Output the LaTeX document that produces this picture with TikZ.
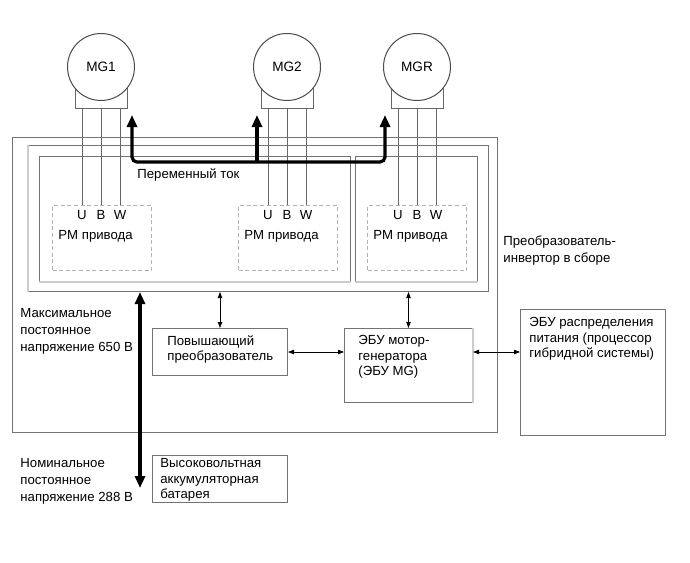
\documentclass[tikz,border=0pt]{standalone}
\usepackage{fontspec}
\setmainfont{Liberation Sans}
\usetikzlibrary{arrows.meta}

\begin{document}
\begin{tikzpicture}[x=0.5pt,y=-0.5pt,
  font=\fontsize{6.6pt}{7.8pt}\selectfont,
  box/.style={draw=black!55,line width=0.5pt,anchor=north west,inner sep=0pt},
  pm/.style={box,draw=black!30,dash pattern=on 2pt off 1.3pt,minimum width=49.5pt,minimum height=32.5pt},
  txt/.style={anchor=north west,inner sep=0pt,align=left},
  outtxt/.style={txt,font=\fontsize{6.6pt}{8.5pt}\selectfont},
  wire/.style={draw=black!60,line width=0.5pt},
  shadeline/.style={draw=black!20,line width=1pt},
  bus/.style={line width=1.6pt,rounded corners=2.5pt},
  link/.style={line width=0.4pt,{Triangle[length=3pt,width=2.2pt]}-{Triangle[length=3pt,width=2.2pt]}},
  motor/.style={circle,draw=black!70,line width=0.5pt,fill=white,minimum size=33.5pt,inner sep=0pt,
    font=\fontsize{6.8pt}{8pt}\selectfont},
  motorbase/.style={draw=black!60,line width=0.5pt,minimum width=26pt,minimum height=11pt,inner sep=0pt,anchor=south}]
  \useasboundingbox (0,0) rectangle (690,562);

  \node[box,minimum width=242.5pt,minimum height=147.5pt] (asm) at (12,137) {};
  \node[box,minimum width=230pt,minimum height=73pt] (inv) at (28,145) {};
  \node[box,minimum width=155.5pt,minimum height=62.5pt] (invl) at (39,156) {};
  \node[box,minimum width=61pt,minimum height=62.5pt] (invr) at (355,156) {};
  \draw[shadeline] (inv.north west) -- (inv.south west);
  \draw[shadeline] (invl.south west) -- (invl.south east);
  \draw[shadeline] (invr.south west) -- (invr.south east);

  \node[pm] (pm1) at (52,205) {};
  \node[pm] (pm2) at (238,205) {};
  \node[pm] (pm3) at (367,205) {};
  \foreach \p in {pm1,pm2,pm3}
    \node[txt] at ([shift={(6,25)}]\p.north west) {PM привода};

  \node[motorbase] (b1) at (101,109) {};
  \node[motor] (mg1) at (101,67) {MG1};
  \node[motorbase] (b2) at (287,109) {};
  \node[motor] (mg2) at (287,67) {MG2};
  \node[motorbase] (b3) at (417,109) {};
  \node[motor] (mg3) at (417,67) {MGR};

  \foreach \m/\p in {b1/pm1,b2/pm2,b3/pm3}
    \foreach \dx/\l in {-19/U,0/B,19/W}{
      \draw[wire] ([xshift=\dx*0.5pt]\m.south) -- ([xshift=\dx*0.5pt]\m.south |- \p.north);
      \node[inner sep=0pt] at ([xshift=\dx*0.5pt,yshift=-5pt]\m.south |- \p.north) {\l};
    }

  \coordinate (acl) at (132,115);
  \coordinate (acm) at (257,115);
  \coordinate (acr) at (385,115);
  \coordinate (acbus) at (0,162);
  \draw[bus,{Triangle[length=6pt,width=5pt]}-{Triangle[length=6pt,width=5pt]}]
    (acl) -- (acl |- acbus) -- (acr |- acbus) -- (acr);
  \draw[bus,-{Triangle[length=6pt,width=5pt]}] (acm |- acbus) -- (acm);
  \node[txt] at (137,168) {Переменный ток};

  \node[outtxt] at (503,235) {Преобразователь-\\инвертор в сборе};

  \node[box,minimum width=67.5pt,minimum height=23.5pt] (boost) at (152,328) {};
  \node[box,minimum width=64pt,minimum height=37pt] (mgecu) at (344,328) {};
  \node[box,minimum width=72.5pt,minimum height=63pt] (pwrecu) at (520,309) {};
  \node[box,minimum width=67.5pt,minimum height=23.5pt] (batt) at (152,455) {};
  \draw[shadeline] (mgecu.north east) -- (mgecu.south east);

  \node[txt] at ([shift={(15,7)}]boost.north west) {Повышающий\\преобразователь};
  \node[txt] at ([shift={(14,7)}]mgecu.north west) {ЭБУ мотор-\\генератора\\(ЭБУ MG)};
  \node[txt] at ([shift={(9,8)}]pwrecu.north west) {ЭБУ распределения\\питания (процессор\\гибридной системы)};
  \node[txt] at ([shift={(8,3)}]batt.north west) {Высоковольтная\\аккумуляторная\\батарея};

  \draw[link] (boost.north) -- (boost.north |- inv.south);
  \draw[link] (mgecu.north) -- (mgecu.north |- inv.south);
  \draw[link] (boost.east) -- (boost.east -| mgecu.west);
  \draw[link] (boost.east -| mgecu.east) -- (boost.east -| pwrecu.west);

  \coordinate (dcend) at (140,488);
  \draw[bus,{Triangle[length=6pt,width=5pt]}-{Triangle[length=6pt,width=5pt]}] (dcend |- inv.south) -- (dcend);

  \node[outtxt] at (20,308) {Максимальное\\постоянное\\напряжение 650 В};
  \node[outtxt] at (20,458) {Номинальное\\постоянное\\напряжение 288 В};
\end{tikzpicture}
\end{document}
